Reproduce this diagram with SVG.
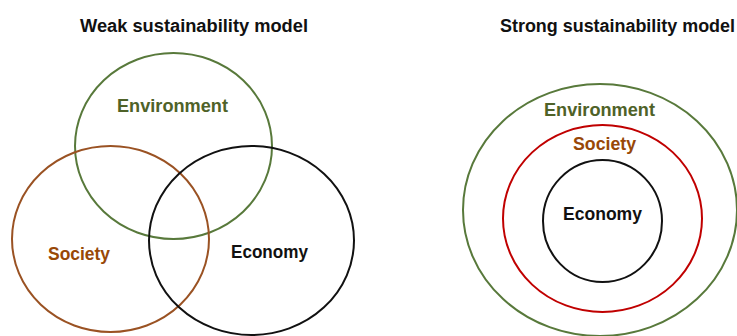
<svg xmlns="http://www.w3.org/2000/svg" width="737" height="336" viewBox="0 0 737 336">
<style>
text{font-family:"Liberation Sans",Arial,sans-serif;font-weight:bold;}
.t{font-size:18px;fill:#111;}
.l{font-size:18px;}
.c{fill:none;stroke-width:2;}
.env{stroke:#58793b;}
.soc{stroke:#9a5223;}
.eco{stroke:#111;}
.red{stroke:#c00000;}
.envT{fill:#4f6228;}
.socT{fill:#984807;}
.ecoT{fill:#111;}
</style>
<rect width="737" height="336" fill="#fff"/>
<text class="t" x="80" y="31.5" textLength="228" lengthAdjust="spacingAndGlyphs">Weak sustainability model</text>
<text class="t" x="500" y="32" textLength="235" lengthAdjust="spacingAndGlyphs">Strong sustainability model</text>
<g id="weak-environment">
<ellipse class="c env" cx="173.5" cy="146" rx="98.5" ry="93"/>
<text class="l envT" x="117" y="112" textLength="111" lengthAdjust="spacingAndGlyphs">Environment</text>
</g>
<g id="weak-society">
<ellipse class="c soc" cx="110.5" cy="239" rx="98.5" ry="93"/>
<text class="l socT" x="48" y="260" textLength="62" lengthAdjust="spacingAndGlyphs">Society</text>
</g>
<g id="weak-economy">
<ellipse class="c eco" cx="251.5" cy="240.5" rx="102.5" ry="94.5"/>
<text class="l ecoT" x="231" y="258" textLength="77" lengthAdjust="spacingAndGlyphs">Economy</text>
</g>
<g id="strong-environment">
<ellipse class="c env" cx="600" cy="210" rx="137" ry="126"/>
<text class="l envT" x="544" y="116" textLength="111" lengthAdjust="spacingAndGlyphs">Environment</text>
</g>
<g id="strong-society">
<ellipse class="c red" cx="602.5" cy="218.5" rx="99.5" ry="93.5"/>
<text class="l socT" x="573" y="150" textLength="63" lengthAdjust="spacingAndGlyphs">Society</text>
</g>
<g id="strong-economy">
<ellipse class="c eco" cx="602.5" cy="221" rx="59.5" ry="61"/>
<text class="l ecoT" x="563" y="220" textLength="79" lengthAdjust="spacingAndGlyphs">Economy</text>
</g>
<g id="connectors"/>
</svg>
